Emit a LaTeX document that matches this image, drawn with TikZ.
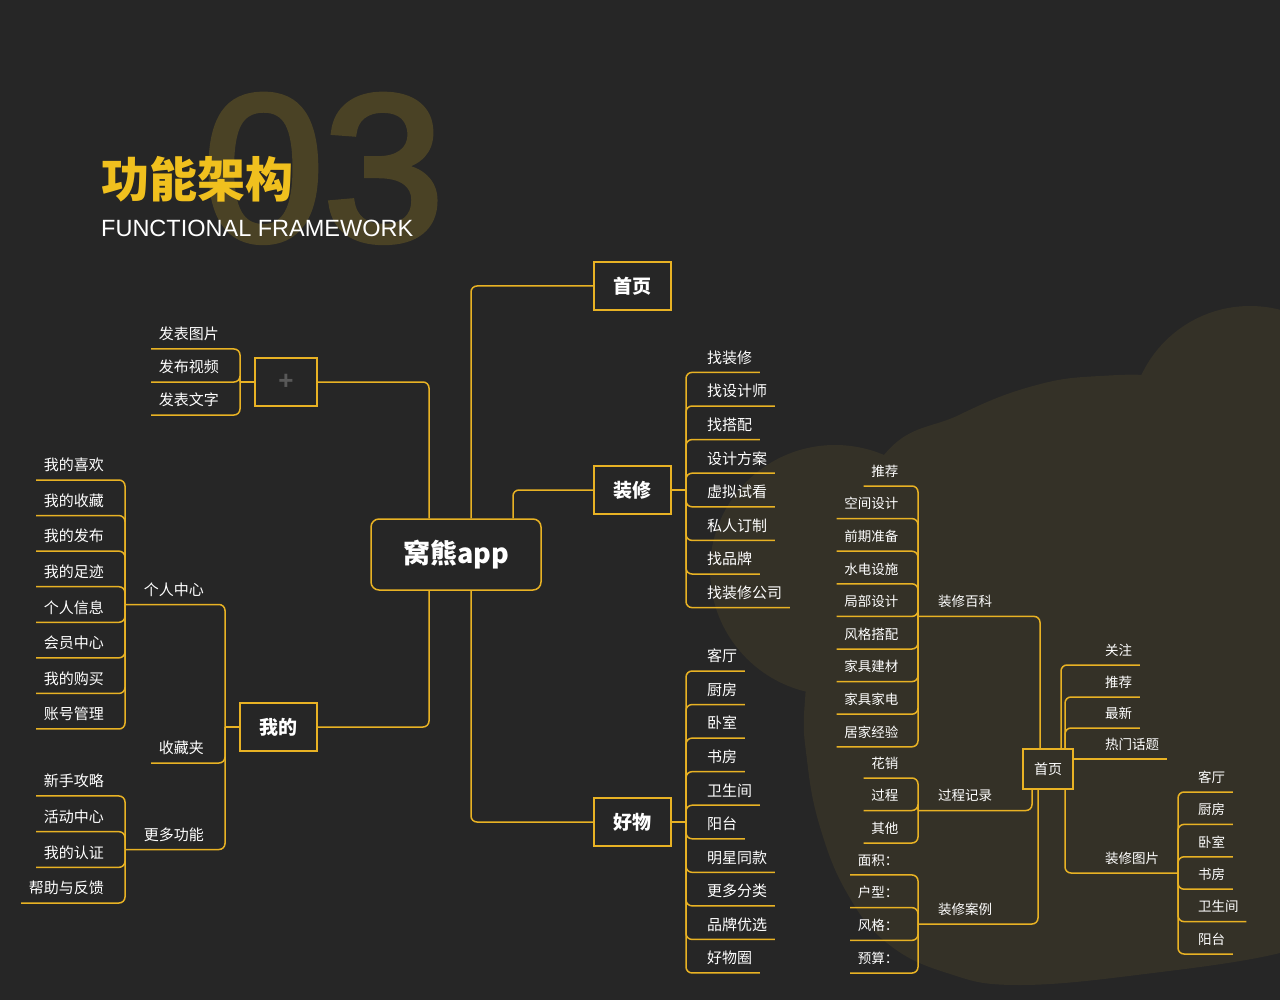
\documentclass[tikz,border=0pt]{standalone}
\usepackage{fontspec}
\setmainfont{Liberation Sans}
\newfontfamily\cjk{Noto Sans CJK SC}
\newfontfamily\numfont{Liberation Sans}[FakeBold=3]
\usepackage{tikz}
\usetikzlibrary{calc}
\definecolor{bgcol}{RGB}{38,38,38}
\definecolor{blobcol}{RGB}{52,49,39}
\definecolor{numcol}{RGB}{74,66,37}
\definecolor{linecol}{RGB}{232,178,36}
\definecolor{titlecol}{RGB}{240,192,30}
\definecolor{pluscol}{RGB}{88,88,88}

\begin{document}
\begin{tikzpicture}[x=1pt,y=-1pt]
	\path [use as bounding box] (0,0) rectangle (1280,1000);
	\tikzstyle{link} = [draw=linecol, line width=1.5pt, rounded corners=6pt]
	\tikzstyle{box} = [draw=linecol, line width=1.5pt, text=white, inner sep=0pt]
	\tikzstyle{hub} = [box, minimum width=77pt, minimum height=48pt, font=\cjk\bfseries\fontsize{19}{19}\selectfont]
	\tikzstyle{leaf} = [text=white, font=\cjk\fontsize{15}{15}\selectfont, inner xsep=7.5pt, inner ysep=0pt, text height=12pt, text depth=9pt]
	\tikzstyle{twig} = [leaf, font=\cjk\fontsize{13.5}{13.5}\selectfont, text depth=9.5pt]
	\fill[bgcol] (0,0) rectangle (1280,1000);
	\begin{scope}
		\clip (0,0) rectangle (1280,1000);
		\fill[blobcol] (835,570) circle (125pt);
		\fill[blobcol] (1250,426) circle (120pt);
		\fill[blobcol] plot[smooth cycle, tension=0.7] coordinates {(880,460) (959,415) (1033,386) (1100,376) (1180,378) (1330,400) (1340,700) (1330,930) (1280,953) (1153,973) (1020,985) (947,973) (887,943) (847,893) (820,827) (807,760) (805,700) (820,600)};
	\end{scope}

	\node[anchor=base west, inner sep=0pt, text=numcol, font=\numfont\fontsize{208}{208}\selectfont] (num) at (203,240) {\scalebox{1.04}[1]{03}};
	\node[anchor=base west, inner sep=0pt, text=titlecol, font=\cjk\bfseries\fontsize{48}{48}\selectfont] (title) at (101,198) {功能架构};
	\node[anchor=base west, inner sep=0pt, text=white, font=\fontsize{23.5}{23.5}\selectfont] (subtitle) at (101,236.5) {FUNCTIONAL FRAMEWORK};

	\node[box, rounded corners=8pt, minimum width=170pt, minimum height=71pt, font=\cjk\bfseries\fontsize{27}{27}\selectfont] (app) at (456,554.5) {窝熊app};
	\node[hub] (sy) at (632.5,286) {首页};
	\node[hub] (zx) at (632.5,490) {装修};
	\node[hub] (hw) at (632.5,822) {好物};
	\node[hub] (wd) at (278.5,727) {我的};
	\node[box, minimum width=62pt, minimum height=48pt, text=pluscol, font=\bfseries\fontsize{26}{26}\selectfont] (fb) at (286,382) {+};
	\draw[link] ([xshift=15pt]app.north) |- (sy.west);
	\draw[link] ([xshift=57pt]app.north) |- (zx.west);
	\draw[link] ([xshift=-27pt]app.north) |- (fb.east);
	\draw[link] ([xshift=15pt]app.south) |- (hw.west);
	\draw[link] ([xshift=-27pt]app.south) |- (wd.east);

	\coordinate (zx-j) at (686,490);
	\draw[link] (zx.east) -- (zx-j);
	\foreach \t [count=\i] in {找装修,找设计师,找搭配,设计方案,虚拟试看,私人订制,找品牌,找装修公司} {
		\node[leaf, anchor=south west] (zx-\i) at (699.5,{490+(\i-4.5)*33.6}) {\t};
		\draw[link] (zx-j) |- (zx-\i.south east);
	}
	\coordinate (hw-j) at (686,822);
	\draw[link] (hw.east) -- (hw-j);
	\foreach \t [count=\i] in {客厅,厨房,卧室,书房,卫生间,阳台,明星同款,更多分类,品牌优选,好物圈} {
		\node[leaf, anchor=south west] (hw-\i) at (699.5,{822+(\i-5.5)*33.55}) {\t};
		\draw[link] (hw-j) |- (hw-\i.south east);
	}
	\coordinate (fb-j) at (240,382);
	\draw[link] (fb.west) -- (fb-j);
	\foreach \t [count=\i] in {发表图片,发布视频,发表文字} {
		\node[leaf, anchor=south east] (fb-\i) at (226.5,{382+(\i-2)*33}) {\t};
		\draw[link] (fb-j) |- (fb-\i.south west);
	}

	\coordinate (wd-j) at (225,727);
	\draw[link] (wd.west) -- (wd-j);
	\node[leaf, anchor=south east] (gr) at (211.5,604.5) {个人中心};
	\node[leaf, anchor=south east] (sc) at (211.5,763) {收藏夹};
	\node[leaf, anchor=south east] (gd) at (211.5,849.5) {更多功能};
	\coordinate (gr-j) at (125,604.5);
	\coordinate (gd-j) at (125,849.5);
	\draw[link] (wd-j) |- (gr-j);
	\draw[link] (wd-j) |- (sc.south west);
	\draw[link] (wd-j) |- (gd-j);
	\foreach \t [count=\i] in {我的喜欢,我的收藏,我的发布,我的足迹,个人信息,会员中心,我的购买,账号管理} {
		\node[leaf, anchor=south east] (gr-\i) at (111.5,{604.5+(\i-4.5)*35.57}) {\t};
		\draw[link] (gr-j) |- (gr-\i.south west);
	}
	\foreach \t [count=\i] in {新手攻略,活动中心,我的认证,帮助与反馈} {
		\node[leaf, anchor=south east] (gd-\i) at (111.5,{849.5+(\i-2.5)*35.67}) {\t};
		\draw[link] (gd-j) |- (gd-\i.south west);
	}

	\node[box, minimum width=50pt, minimum height=40pt, font=\cjk\fontsize{14}{14}\selectfont] (sy2) at (1048,769) {首页};
	\coordinate (bk-j) at (918,616.4);
	\coordinate (gc-j) at (918,810.5);
	\coordinate (al-j) at (918,924);
	\coordinate (tp-j) at (1178,873);
	\node[twig, anchor=south west] (bk) at (930.5,616.4) {装修百科};
	\node[twig, anchor=south west] (gc) at (930.5,810.5) {过程记录};
	\node[twig, anchor=south west] (al) at (930.5,924) {装修案例};
	\node[twig, anchor=south west] (tp) at (1097.5,873) {装修图片};
	\draw[link] ([xshift=-8pt]sy2.north) |- (bk-j);
	\draw[link] ([xshift=-16pt]sy2.south) |- (gc-j);
	\draw[link] ([xshift=-10pt]sy2.south) |- (al-j);
	\draw[link] ([xshift=17pt]sy2.south) |- (tp-j);
	\node[twig, anchor=south west] (gz) at (1097.5,665) {关注};
	\node[twig, anchor=south west] (tj) at (1097.5,697) {推荐};
	\node[twig, anchor=south west] (zz) at (1097.5,728) {最新};
	\node[twig, anchor=south west] (rm) at (1097.5,759) {热门话题};
	\draw[link] ([xshift=13pt]sy2.north) |- (gz.south east);
	\draw[link] ([xshift=17pt]sy2.north) |- (tj.south east);
	\draw[link] ([xshift=17pt]sy2.north) |- (zz.south east);
	\draw[link] (sy2.east |- rm.south) -- (rm.south east);
	\foreach \t [count=\i] in {推荐,空间设计,前期准备,水电设施,局部设计,风格搭配,家具建材,家具家电,居家经验} {
		\node[twig, anchor=south east] (bk-\i) at (906,{616.4+(\i-5)*32.6}) {\t};
		\draw[link] (bk-j) |- (bk-\i.south west);
	}
	\foreach \t [count=\i] in {花销,过程,其他} {
		\node[twig, anchor=south east] (gc-\i) at (906,{810.5+(\i-2)*32.5}) {\t};
		\draw[link] (gc-j) |- (gc-\i.south west);
	}
	\foreach \t [count=\i] in {面积：,户型：,风格：,预算：} {
		\node[twig, anchor=south east] (al-\i) at (906,{924+(\i-2.5)*32.7}) {\t};
		\draw[link] (al-j) |- (al-\i.south west);
	}
	\foreach \t [count=\i] in {客厅,厨房,卧室,书房,卫生间,阳台} {
		\node[twig, anchor=south west] (tp-\i) at (1190.5,{873+(\i-3.5)*32.4}) {\t};
		\draw[link] (tp-j) |- (tp-\i.south east);
	}
\end{tikzpicture}
\end{document}
